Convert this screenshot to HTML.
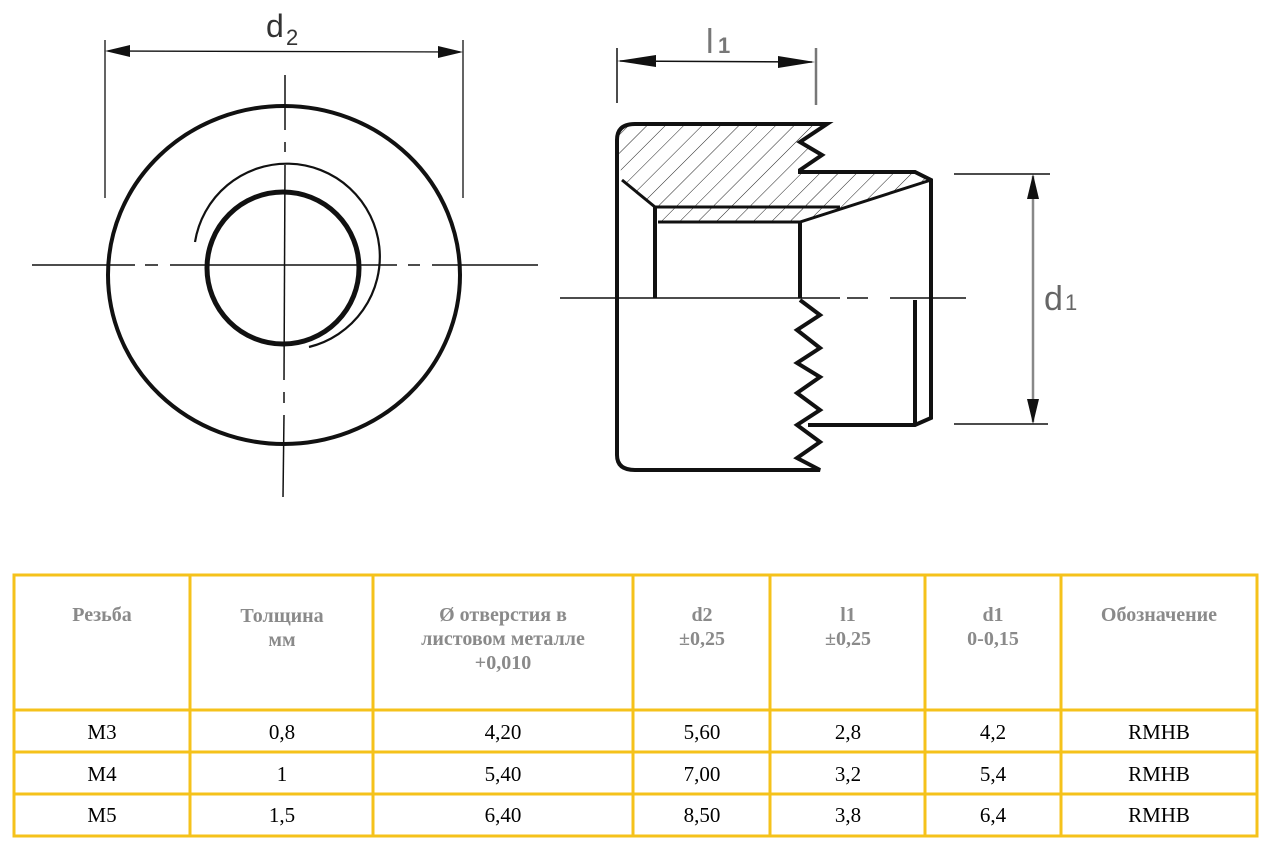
<!DOCTYPE html>
<html><head><meta charset="utf-8"><style>
html,body{margin:0;padding:0;background:#fff;width:1269px;height:847px;overflow:hidden}
svg{display:block}
</style></head><body>
<svg width="1269" height="847" viewBox="0 0 1269 847" xmlns="http://www.w3.org/2000/svg">
<defs>
<pattern id="h" patternUnits="userSpaceOnUse" width="13" height="13" patternTransform="rotate(45)">
<line x1="0" y1="0" x2="0" y2="13" stroke="#222" stroke-width="1"/>
</pattern>
</defs>
<!-- LEFT VIEW -->
<g fill="none" stroke="#111">
<line x1="105" y1="40" x2="105" y2="198" stroke-width="1.3"/>
<line x1="463" y1="40" x2="463" y2="198" stroke-width="1.3"/>
<line x1="108" y1="51" x2="460" y2="52" stroke-width="1.3"/>
<ellipse cx="284" cy="275" rx="176" ry="169" stroke-width="4"/>
<ellipse cx="283" cy="268" rx="76" ry="76" stroke-width="5"/>
<path d="M195 242 A93 93 0 1 1 309 347" stroke-width="2.2"/>
<line x1="32" y1="265" x2="135" y2="265" stroke-width="1.5"/>
<line x1="145" y1="265" x2="158" y2="265" stroke-width="1.5"/>
<line x1="170" y1="265" x2="397" y2="265" stroke-width="1.5"/>
<line x1="408" y1="265" x2="420" y2="265" stroke-width="1.5"/>
<line x1="432" y1="265" x2="538" y2="265" stroke-width="1.5"/>
<line x1="285" y1="75" x2="285" y2="130" stroke-width="1.5"/>
<line x1="285" y1="142" x2="285" y2="152" stroke-width="1.5"/>
<line x1="285" y1="165" x2="284" y2="380" stroke-width="1.5"/>
<line x1="284" y1="392" x2="284" y2="403" stroke-width="1.5"/>
<line x1="284" y1="415" x2="283" y2="497" stroke-width="1.5"/>
</g>
<polygon points="105,51 130,45 130,57" fill="#111"/>
<polygon points="463,52 438,46 438,58" fill="#111"/>
<text x="266" y="37" font-family="Liberation Sans, sans-serif" font-size="32" fill="#333">d</text>
<text x="286" y="45" font-family="Liberation Sans, sans-serif" font-size="22" fill="#333">2</text>

<!-- RIGHT VIEW -->
<path d="M617 140 Q617 124 635 124 L827 124 L800 142 L822 155 L800 170 L800 172 L915 172 L931 180 L800 222 L658 222 L658 207 L622 180 Z" fill="url(#h)" stroke="none"/>
<g fill="none" stroke="#111" stroke-width="4" stroke-linejoin="miter">
<path d="M617 140 Q617 124 635 124 L827 124 L800 142 L822 155 L800 170 L800 172 L915 172 L931 180 L931 418 L915 425 L808 425"/>
<path d="M617 140 L617 455 Q617 470 635 470 L820 470 L797 458 L820 442 L797 425 L820 410 L797 393 L820 377 L797 363 L820 348 L797 330 L820 315 L800 300"/>
<path d="M622 180 L655 207 L840 207" stroke-width="3"/>
<path d="M931 180 L800 222 L658 222" stroke-width="3"/>
<line x1="655" y1="207" x2="655" y2="298"/>
<line x1="800" y1="222" x2="800" y2="298"/>
<line x1="915" y1="300" x2="915" y2="425"/>
</g>
<g stroke="#111" stroke-width="1.5">
<line x1="560" y1="298" x2="840" y2="298"/>
<line x1="847" y1="298" x2="868" y2="298"/>
<line x1="890" y1="298" x2="966" y2="298"/>
<line x1="617" y1="48" x2="617" y2="103"/>
<line x1="816" y1="48" x2="816" y2="105" stroke="#777" stroke-width="2.5"/>
<line x1="620" y1="61" x2="812" y2="62"/>
<line x1="954" y1="174" x2="1050" y2="174"/>
<line x1="954" y1="424" x2="1048" y2="424"/>
<line x1="1033" y1="176" x2="1033" y2="422" stroke="#888" stroke-width="2.5"/>
</g>
<polygon points="617,61 656,55 656,67" fill="#111"/>
<polygon points="815,62 778,56 778,68" fill="#111"/>
<polygon points="1033,174 1027,199 1039,199" fill="#111"/>
<polygon points="1033,424 1027,399 1039,399" fill="#111"/>
<text x="706" y="53" font-family="Liberation Sans, sans-serif" font-size="34" fill="#777">l</text>
<text x="718" y="53" font-family="Liberation Sans, sans-serif" font-size="22" fill="#777" font-weight="bold">1</text>
<text x="1044" y="310" font-family="Liberation Sans, sans-serif" font-size="34" fill="#666">d</text>
<text x="1065" y="310" font-family="Liberation Sans, sans-serif" font-size="22" fill="#666">1</text>

<!-- TABLE -->
<g stroke="#f5c21b" stroke-width="3" fill="none">
<rect x="14" y="575" width="1243" height="261"/>
<line x1="14" y1="710" x2="1257" y2="710"/>
<line x1="14" y1="752" x2="1257" y2="752"/>
<line x1="14" y1="794" x2="1257" y2="794"/>
<line x1="190" y1="575" x2="190" y2="836"/>
<line x1="373" y1="575" x2="373" y2="836"/>
<line x1="633" y1="575" x2="633" y2="836"/>
<line x1="770" y1="575" x2="770" y2="836"/>
<line x1="925" y1="575" x2="925" y2="836"/>
<line x1="1061" y1="575" x2="1061" y2="836"/>
</g>
<g font-family="Liberation Serif, serif" font-size="20" font-weight="bold" fill="#8a8a8a" text-anchor="middle">
<text x="102" y="621">Резьба</text>
<text x="282" y="622">Толщина</text>
<text x="282" y="646">мм</text>
<text x="503" y="621">Ø отверстия в</text>
<text x="503" y="645">листовом металле</text>
<text x="503" y="669">+0,010</text>
<text x="702" y="621">d2</text>
<text x="702" y="645">±0,25</text>
<text x="848" y="621">l1</text>
<text x="848" y="645">±0,25</text>
<text x="993" y="621">d1</text>
<text x="993" y="645">0-0,15</text>
<text x="1159" y="621">Обозначение</text>
</g>
<g font-family="Liberation Serif, serif" font-size="21" fill="#000" text-anchor="middle">
<text x="102" y="739">M3</text><text x="282" y="739">0,8</text><text x="503" y="739">4,20</text><text x="702" y="739">5,60</text><text x="848" y="739">2,8</text><text x="993" y="739">4,2</text><text x="1159" y="739">RMHB</text>
<text x="102" y="781">M4</text><text x="282" y="781">1</text><text x="503" y="781">5,40</text><text x="702" y="781">7,00</text><text x="848" y="781">3,2</text><text x="993" y="781">5,4</text><text x="1159" y="781">RMHB</text>
<text x="102" y="822">M5</text><text x="282" y="822">1,5</text><text x="503" y="822">6,40</text><text x="702" y="822">8,50</text><text x="848" y="822">3,8</text><text x="993" y="822">6,4</text><text x="1159" y="822">RMHB</text>
</g>
</svg>
</body></html>
